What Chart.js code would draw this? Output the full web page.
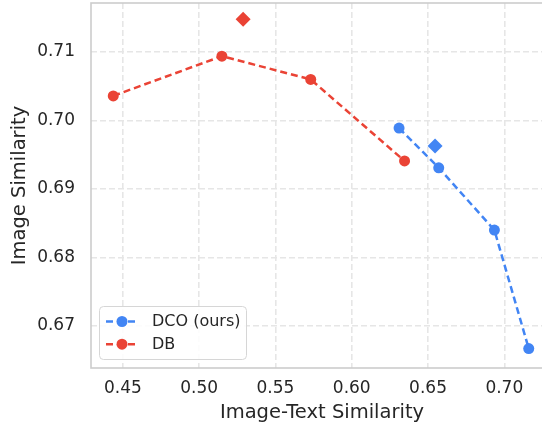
<!DOCTYPE html>
<html lang="en">
<head>
    <meta charset="UTF-8">
    <title>Image vs Image-Text Similarity</title>
    <script src="https://cdn.jsdelivr.net/npm/chart.js"></script>
    <style>
        html, body { margin: 0; padding: 0; overflow: hidden; background: #fff; }
        #wrap { width: 556px; height: 428px; }
    </style>
</head>
<body>
    <div id="wrap"><canvas id="simChart" width="556" height="428"></canvas></div>
    <script>
        // values
        const dcoX = [0.631, 0.657, 0.6935, 0.716];
        const dcoY = [0.6989, 0.6931, 0.6840, 0.6667];
        const dbX = [0.4437, 0.5149, 0.5731, 0.6346];
        const dbY = [0.7036, 0.7094, 0.7060, 0.6941];
        const dcoStarX = [0.6546];
        const dcoStarY = [0.6963];
        const dbStarX = [0.5288];
        const dbStarY = [0.7148];
        const xTicks = [0.45, 0.50, 0.55, 0.60, 0.65, 0.70];
        const yTicks = [0.67, 0.68, 0.69, 0.70, 0.71];

        const BLUE = '#4285F4';
        const RED = '#EA4335';
        const TEXT = '#262626';
        const FONT = "'DejaVu Sans', sans-serif";

        const toPoints = (xs, ys) => xs.map((x, i) => ({ x: x, y: ys[i] }));

        // frame + legend box drawn by hand (matplotlib style)
        const framePlugin = {
            id: 'frame',
            afterDraw(chart) {
                const { ctx, chartArea: a } = chart;
                ctx.save();
                ctx.strokeStyle = '#cccccc';
                ctx.lineWidth = 1.6;
                ctx.strokeRect(a.left, a.top, a.right - a.left, a.bottom - a.top);

                // legend
                const items = chart.data.datasets.filter(d => d.inLegend);
                const bx = 99.5, by = 306.5, bw = 147, bh = 53;
                ctx.beginPath();
                ctx.roundRect(bx, by, bw, bh, 4);
                ctx.fillStyle = 'rgba(255,255,255,0.85)';
                ctx.fill();
                ctx.strokeStyle = '#d6d6d6';
                ctx.lineWidth = 1;
                ctx.stroke();
                items.forEach((d, i) => {
                    const y = 321.5 + i * 22.7;
                    ctx.strokeStyle = d.borderColor;
                    ctx.lineWidth = 2.5;
                    ctx.setLineDash([7, 4]);
                    ctx.beginPath();
                    ctx.moveTo(106, y);
                    ctx.lineTo(138, y);
                    ctx.stroke();
                    ctx.setLineDash([]);
                    ctx.fillStyle = d.borderColor;
                    ctx.beginPath();
                    ctx.arc(122, y, 5.5, 0, Math.PI * 2);
                    ctx.fill();
                    ctx.fillStyle = TEXT;
                    ctx.font = '16px ' + FONT;
                    ctx.textBaseline = 'middle';
                    ctx.fillText(d.label, 152, y + 0.5);
                });
                ctx.restore();
            }
        };

        const lineSet = (label, pts, color) => ({
            label: label,
            data: pts,
            inLegend: true,
            showLine: true,
            borderColor: color,
            backgroundColor: color,
            borderWidth: 2.5,
            borderDash: [7, 4],
            pointRadius: 5.5,
            pointBorderWidth: 0,
            pointBackgroundColor: color
        });
        const starSet = (label, pts, color) => ({
            label: label,
            data: pts,
            showLine: false,
            backgroundColor: color,
            borderColor: color,
            pointStyle: 'rectRot',
            pointRadius: 7.5,
            pointBorderWidth: 0
        });

        new Chart(document.getElementById('simChart'), {
            type: 'scatter',
            data: {
                datasets: [
                    lineSet('DCO (ours)', toPoints(dcoX, dcoY), BLUE),
                    lineSet('DB', toPoints(dbX, dbY), RED),
                    starSet('DCO*', toPoints(dcoStarX, dcoStarY), BLUE),
                    starSet('DB*', toPoints(dbStarX, dbStarY), RED)
                ]
            },
            options: {
                responsive: false,
                animation: false,
                layout: { autoPadding: false, padding: { top: 3, right: 3, left: 0, bottom: 0 } },
                plugins: { legend: { display: false }, tooltip: { enabled: false } },
                scales: {
                    x: {
                        type: 'linear',
                        min: 0.4291,
                        max: 0.7319,
                        afterBuildTicks: s => { s.ticks = xTicks.map(v => ({ value: v })); },
                        afterFit: s => { s.height = 60; s.paddingLeft = 0; s.paddingRight = 0; },
                        ticks: {
                            color: TEXT,
                            font: { family: FONT, size: 17 },
                            padding: 10,
                            callback: v => v.toFixed(2)
                        },
                        grid: { color: '#e6e6e6', lineWidth: 1.6, drawTicks: false },
                        border: { display: false, dash: [6, 3] },
                        title: {
                            display: true,
                            text: 'Image-Text Similarity',
                            color: TEXT,
                            font: { family: FONT, size: 19.5 },
                            padding: { top: 0, bottom: 3 }
                        }
                    },
                    y: {
                        type: 'linear',
                        min: 0.66387,
                        max: 0.71716,
                        afterBuildTicks: s => { s.ticks = yTicks.map(v => ({ value: v })); },
                        afterFit: s => { s.width = 91; s.paddingTop = 0; s.paddingBottom = 0; },
                        ticks: {
                            color: TEXT,
                            font: { family: FONT, size: 17 },
                            padding: 16,
                            callback: v => v.toFixed(2)
                        },
                        grid: { color: '#e6e6e6', lineWidth: 1.6, drawTicks: false },
                        border: { display: false, dash: [6, 3] },
                        title: {
                            display: true,
                            text: 'Image Similarity',
                            color: TEXT,
                            font: { family: FONT, size: 19.5 },
                            padding: { top: 8, bottom: 0 }
                        }
                    }
                }
            },
            plugins: [framePlugin]
        });
    </script>
</body>
</html>
